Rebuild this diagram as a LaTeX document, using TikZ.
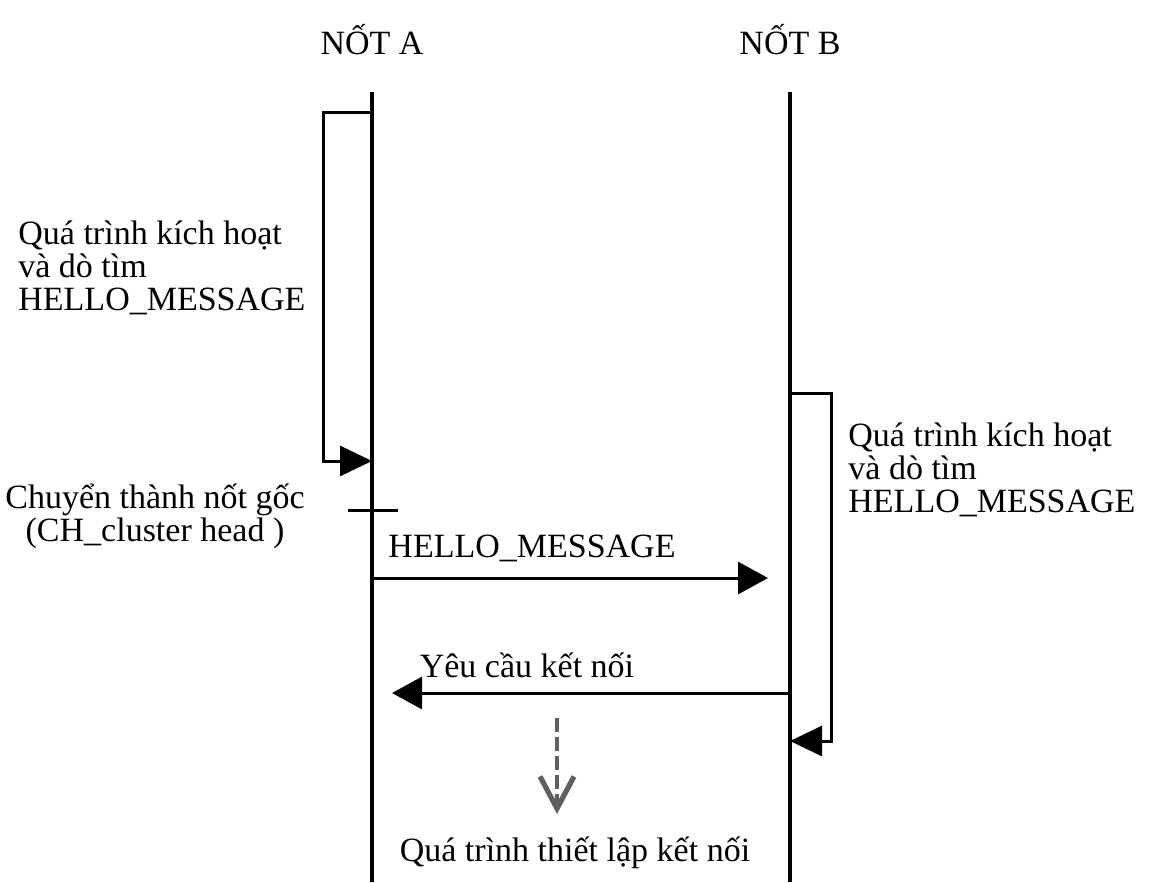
\documentclass[tikz,border=0pt]{standalone}
\usepackage{fontspec}
\setmainfont{Liberation Serif}
\usetikzlibrary{arrows.meta}
\tikzset{
  lbl/.style={font=\fontsize{17}{16.5}\selectfont,inner sep=0pt},
  lifeline/.style={line width=1.7pt},
  msg/.style={line width=1.5pt,-{Triangle[length=15pt,width=16pt]}},
  selfloop/.style={line width=1.5pt,-{Triangle[length=16pt,width=15pt]}},
  nextstep/.style={gray!75!black,line width=1.6pt,dash pattern=on 7pt off 2.5pt,
    -{Straight Barb[length=16pt,width=17pt,line width=2.6pt]}},
}
\begin{document}
\begin{tikzpicture}[x=0.5pt,y=-0.5pt]
      \useasboundingbox (0,0) rectangle (1149,882);
      \draw
        (372,40) node[lbl] (ta){NỐT A}
        (790,40) node[lbl] (tb){NỐT B}
        (18,268) node[lbl,anchor=west,align=left] (pa){Quá trình kích hoạt\\và dò tìm\\HELLO\_MESSAGE}
        (848,470) node[lbl,anchor=west,align=left] (pb){Quá trình kích hoạt\\và dò tìm\\HELLO\_MESSAGE}
        (155,516) node[lbl,align=center] (ch){Chuyển thành nốt gốc\\(CH\_cluster head )}
        (532,548) node[lbl] (hm){HELLO\_MESSAGE}
        (527,665) node[lbl] (yc){Yêu cầu kết nối}
        (575,853) node[lbl] (tl){Quá trình thiết lập kết nối};
      \coordinate (a0) at (372,92);
      \coordinate (a1) at (372,882);
      \coordinate (b0) at (790,92);
      \coordinate (b1) at (790,882);
      \coordinate (la0) at (372,113);
      \coordinate (la1) at (372,461);
      \coordinate (lb0) at (790,393);
      \coordinate (lb1) at (790,741);
      \coordinate (k0) at (348,510);
      \coordinate (k1) at (398,510);
      \coordinate (h0) at (372,578);
      \coordinate (h1) at (768,578);
      \coordinate (y0) at (790,693);
      \coordinate (y1) at (392,693);
      \coordinate (d0) at (557,718);
      \coordinate (d1) at (557,814);
      \begin{scope}[lifeline]
        \draw (a0) to (a1);
        \draw (b0) to (b1);
      \end{scope}
      \draw[selfloop] (la0) -| (323,461) -- (la1);
      \draw[selfloop] (lb0) -| (831,741) -- (lb1);
      \draw[line width=1.5pt] (k0) to (k1);
      \draw[msg] (h0) to (h1);
      \draw[msg] (y0) to (y1);
      \draw[nextstep] (d0) to (d1);
    \end{tikzpicture}
\end{document}
